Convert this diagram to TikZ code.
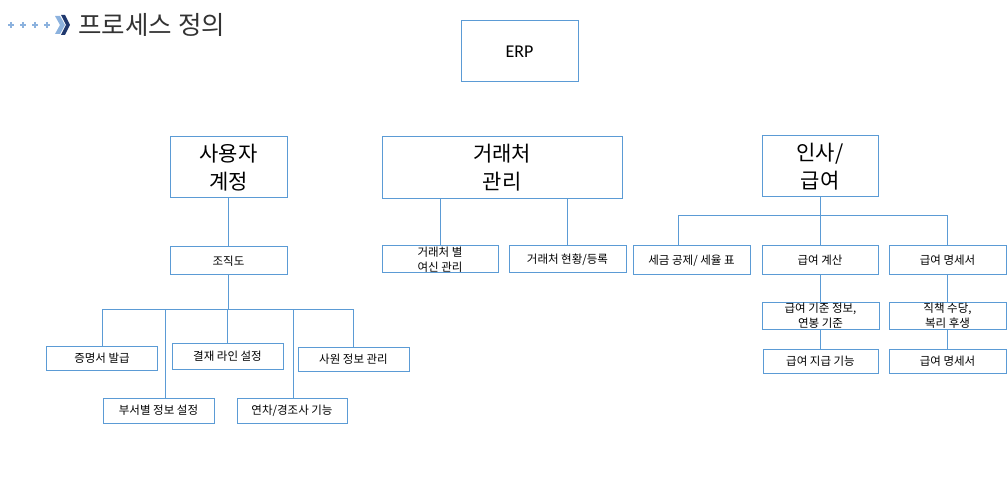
\documentclass[tikz,border=0pt]{standalone}
\usepackage{fontspec}
\setmainfont{Noto Sans CJK KR}
\newfontfamily\latinfont{Carlito}

\definecolor{boxblue}{RGB}{91,155,213}
\definecolor{navyblue}{RGB}{31,56,110}
\definecolor{paleblue}{RGB}{140,178,222}
\definecolor{titlegray}{RGB}{51,51,51}

\tikzset{
    box/.style={draw=boxblue, line width=1pt, rectangle, inner sep=0pt, align=center,
        font=\fontsize{11.5}{14.5}\selectfont},
    bigbox/.style={box, font=\fontsize{21}{28}\selectfont},
    link/.style={draw=boxblue, line width=1pt},
}

\begin{document}
\begin{tikzpicture}[x=1pt, y=-1pt]
        \useasboundingbox (0,0) rectangle (1007,497);

        % Title mark
        \foreach \x in {11,23,35,47}
            \draw[paleblue, line width=1.6pt] (\x-3,25) -- (\x+3,25) (\x,22) -- (\x,28);
        \fill[paleblue] (55,16) -- (60,16) -- (65,25) -- (60,34) -- (55,34) -- (60,25) -- cycle;
        \fill[navyblue] (61,15) -- (65,15) -- (70,25) -- (65,35) -- (61,35) -- (66,25) -- cycle;
        \node[anchor=west, text=titlegray, font=\fontsize{25.5}{28}\selectfont] (title) at (75,25) {프로세스 정의};

        % Root
        \node[box, minimum width=117, minimum height=61, font=\latinfont\fontsize{18}{20}\selectfont] (erp) at (519.5,51.5) {ERP};

        % Main groups
        \node[bigbox, minimum width=117, minimum height=61] (user) at (228.5,167.5) {사용자\\계정};
        \node[bigbox, minimum width=240, minimum height=62] (biz) at (502,168) {거래처\\관리};
        \node[bigbox, minimum width=116, minimum height=61] (hr) at (820,166.5) {인사/\\급여};

        % User account
        \node[box, minimum width=117, minimum height=28] (org) at (228.5,261) {조직도};
        \node[box, minimum width=111, minimum height=24] (cert) at (102,358.5) {증명서 발급};
        \node[box, minimum width=111, minimum height=26] (appr) at (227.5,356) {결재 라인 설정};
        \node[box, minimum width=111, minimum height=24] (staff) at (353.5,359) {사원 정보 관리};
        \node[box, minimum width=111, minimum height=25] (dept) at (158.5,410.5) {부서별 정보 설정};
        \node[box, minimum width=110, minimum height=25] (leave) at (292,410.5) {연차/경조사 기능};
        \coordinate (orgbus) at (228.5,309.5);

        \draw[link] (user.south) -- (org.north);
        \draw[link] (org.south) -- (orgbus);
        \draw[link] (orgbus) -| (cert.north);
        \draw[link] (orgbus) -| (staff.north);
        \draw[link] (orgbus -| appr.north) -- (appr.north);
        \draw[link] (orgbus) -| ([xshift=6.5pt]dept.north);
        \draw[link] (orgbus) -| ([xshift=1pt]leave.north);

        % Clients
        \node[box, minimum width=116, minimum height=27] (credit) at (440,259.5) {거래처 별\\여신 관리};
        \node[box, minimum width=117, minimum height=27] (reg) at (567.5,259.5) {거래처 현황/등록};

        \draw[link] (biz.south -| credit.north) -- (credit.north);
        \draw[link] (biz.south -| reg.north) -- (reg.north);

        % HR / payroll
        \node[box, minimum width=117, minimum height=29] (tax) at (691.5,260.5) {세금 공제/ 세율 표};
        \node[box, minimum width=116, minimum height=29] (pay) at (820,260.5) {급여 계산};
        \node[box, minimum width=117, minimum height=29] (slip) at (947.5,260.5) {급여 명세서};
        \node[box, minimum width=117, minimum height=27] (base) at (820.5,315.5) {급여 기준 정보,\\연봉 기준};
        \node[box, minimum width=115, minimum height=24] (give) at (820.5,361) {급여 지급 기능};
        \node[box, minimum width=117, minimum height=27] (bonus) at (947.5,315.5) {직책 수당,\\복리 후생};
        \node[box, minimum width=117, minimum height=24] (slipb) at (947.5,361) {급여 명세서};
        \coordinate (hrbus) at (820,216);

        \draw[link] (hr.south) -- (pay.north);
        \draw[link] (hrbus) -| ([xshift=-13.5pt]tax.north);
        \draw[link] (hrbus) -| (slip.north);
        \draw[link] (pay.south) -- (pay.south |- base.north);
        \draw[link] (base.south) -- (base.south |- give.north);
        \draw[link] (slip.south) -- (bonus.north);
        \draw[link] (bonus.south) -- (slipb.north);
\end{tikzpicture}
\end{document}
